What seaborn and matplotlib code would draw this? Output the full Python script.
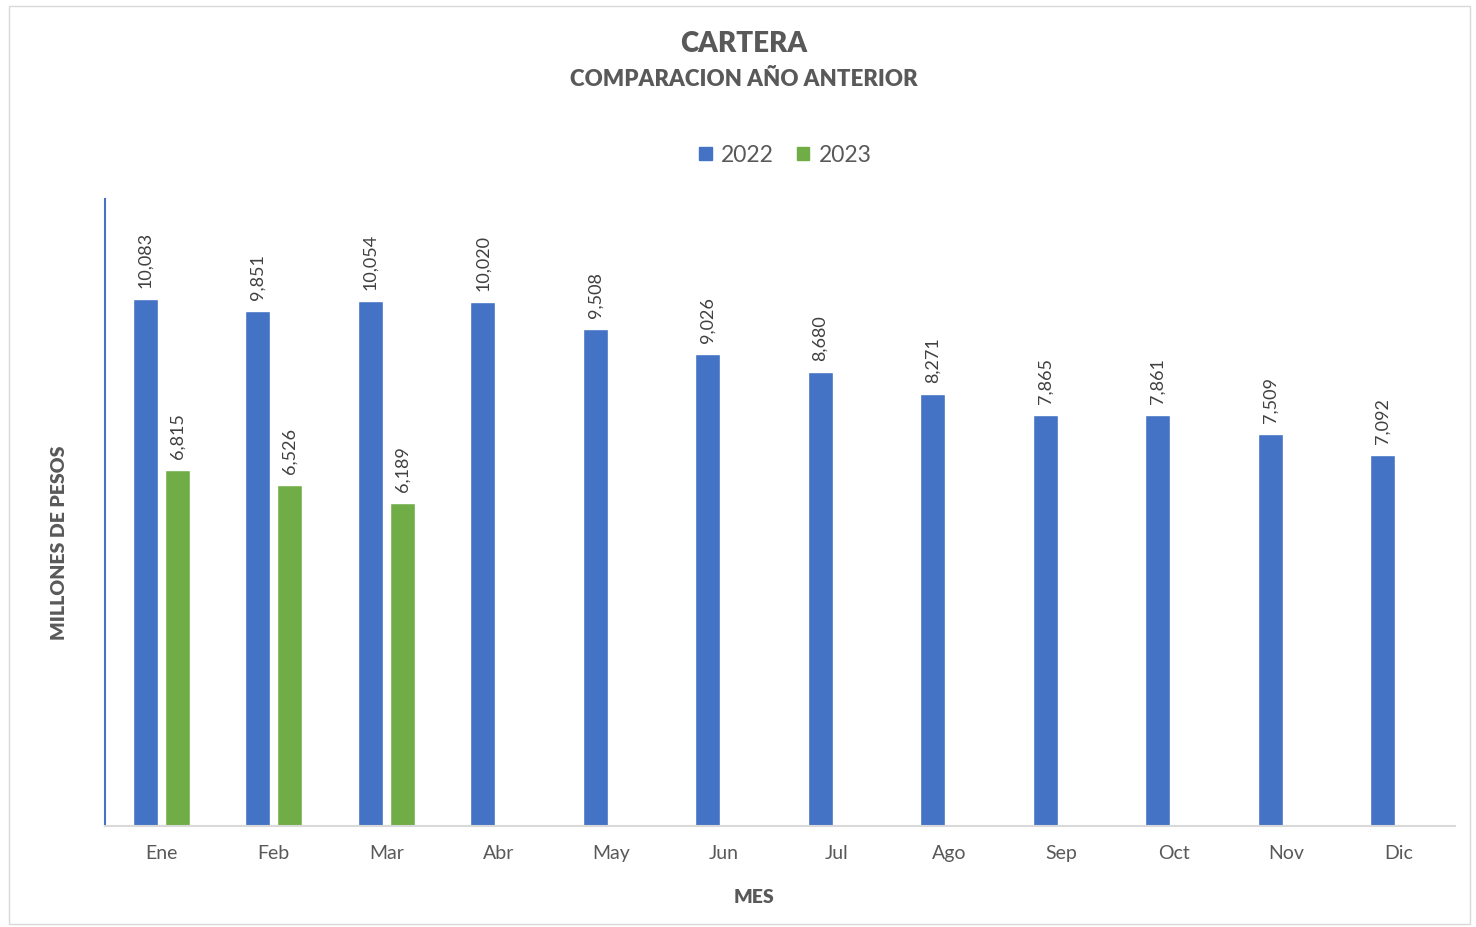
import pandas as pd
import seaborn as sns
import matplotlib.pyplot as plt
from matplotlib.patches import Rectangle

meses = ['Ene', 'Feb', 'Mar', 'Abr', 'May', 'Jun', 'Jul', 'Ago', 'Sep', 'Oct', 'Nov', 'Dic']
cartera_2022 = [10083, 9851, 10054, 10020, 9508, 9026, 8680, 8271, 7865, 7861, 7509, 7092]
cartera_2023 = [6815, 6526, 6189]

filas = []
for mes, valor in zip(meses, cartera_2022):
    filas.append({'Mes': mes, 'Anio': '2022', 'Valor': valor})
for mes, valor in zip(meses, cartera_2023):
    filas.append({'Mes': mes, 'Anio': '2023', 'Valor': valor})
df = pd.DataFrame(filas)

sns.set_style('white')
plt.rcParams['font.family'] = ['Lato', 'DejaVu Sans']

gris = '#595959'
colores = {'2022': '#4472C4', '2023': '#70AD47'}

fig = plt.figure(figsize=(14.76, 9.27), dpi=100)
ax = fig.add_axes([0.0711, 0.109, 0.9147, 0.6763])

sns.barplot(data=df, x='Mes', y='Valor', hue='Anio', order=meses, hue_order=['2022', '2023'],
            palette=colores, width=0.57, gap=0.22, saturation=1, legend=False, ax=ax)

# etiquetas de datos
for cont in ax.containers:
    ax.bar_label(cont, labels=[f'{v:,.0f}' for v in cont.datavalues], rotation=90,
                 padding=8, fontsize=13, color='#404040')

ax.set_xlim(-0.5, 11.5)
ax.set_ylim(0, 12000)
ax.set_yticks([])
ax.set_xlabel('MES', fontsize=14, fontweight='heavy', color=gris)
ax.set_ylabel('MILLONES DE PESOS', fontsize=14, fontweight='heavy', color=gris)
ax.xaxis.set_label_coords(0.481, -0.1)
ax.yaxis.set_label_coords(-0.027, 0.452)
ax.tick_params(axis='x', length=0, labelsize=14, labelcolor=gris, pad=14)

for lado in ['top', 'right']:
    ax.spines[lado].set_visible(False)
ax.spines['left'].set_color('#4472C4')
ax.spines['left'].set_linewidth(1.5)
ax.spines['bottom'].set_color('#D9D9D9')
ax.spines['bottom'].set_linewidth(1.5)

# leyenda
handles = [Rectangle((0, 0), 1, 1, color=colores[k]) for k in ['2022', '2023']]
ax.legend(handles, ['2022', '2023'], loc='center', bbox_to_anchor=(0.504, 1.07, 0, 0),
          ncol=2, frameon=False, fontsize=16.5, labelcolor=gris, handlelength=0.55,
          handleheight=0.55, handletextpad=0.4, columnspacing=1.0)

fig.text(0.504, 0.953, 'CARTERA', ha='center', va='center', fontsize=20,
         fontweight='heavy', color=gris)
fig.text(0.504, 0.914, 'COMPARACION AÑO ANTERIOR', ha='center', va='center',
         fontsize=16, fontweight='heavy', color=gris)

# borde del grafico
fig.patches.append(Rectangle((0.006, 0.003), 0.99, 0.99, transform=fig.transFigure,
                             fill=False, edgecolor='#D9D9D9', linewidth=1))

fig.savefig('out.png', dpi=100)
